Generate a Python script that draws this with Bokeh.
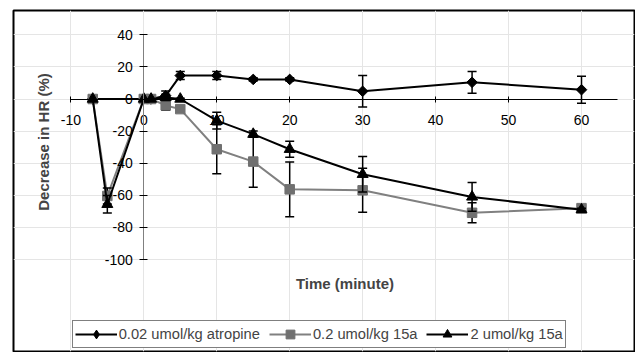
from math import pi
from bokeh.plotting import figure
from bokeh.models import (LinearAxis, FixedTicker, Range1d, Label, Legend,
                          LegendItem)
from bokeh.embed import file_html
from bokeh.resources import INLINE

# ---------------- data ----------------
atro_t = [-7, 0, 1, 3, 5, 10, 15, 20, 30, 45, 60]
atro_v = [0, 0, 0, 2, 14.6, 14.6, 12.2, 12.2, 4.8, 10.4, 5.8]
atro_e = [0, 0, 0, 3, 2.5, 2.5, 1, 1, 9.8, 6.8, 8.4]

t15 = [-7, -5, 0, 1, 3, 5, 10, 15, 20, 30, 45, 60]
low_v = [0, -60.4, 0, 0, -4, -6.3, -31.3, -39, -56.3, -56.9, -70.9, -68]
low_e = [0, 5, 0, 0, 3, 2, 15.3, 16, 17, 13.7, 6.2, 1]
high_v = [0, -65.6, 0, 0, 1, 0, -13.5, -21.9, -31.3, -46.9, -61, -69]
high_e = [0, 5.4, 0, 0, 2, 0.5, 5.2, 2, 5, 11, 9, 1]

labels = ["0.02 umol/kg atropine", "0.2 umol/kg 15a", "2 umol/kg 15a"]
xticks = [-10, 0, 10, 20, 30, 40, 50, 60]
yticks = [-100, -80, -60, -40, -20, 0, 20, 40]
x_title = "Time (minute)"
y_title = "Decrease in HR (%)"

FONT = "Liberation Sans"

p = figure(width=635, height=352,
           x_range=Range1d(-17.862, 67.265), y_range=Range1d(-157.32, 55.14),
           output_backend="svg", toolbar_location=None,
           x_axis_location=None, y_axis_location=None,
           min_border_left=13, min_border_top=10, min_border_right=1,
           min_border_bottom=1)
p.outline_line_color = "black"
p.outline_line_width = 2
p.background_fill_color = "white"
p.border_fill_color = "white"

xax = LinearAxis(fixed_location=0, bounds=(-10, 65),
                 ticker=FixedTicker(ticks=xticks, minor_ticks=[]),
                 major_label_overrides={v: str(v) for v in xticks},
                 axis_line_color="black", axis_line_width=1,
                 major_tick_in=3, major_tick_out=3,
                 major_tick_line_color="black",
                 minor_tick_line_color=None,
                 major_label_standoff=13,
                 major_label_text_font=FONT,
                 major_label_text_font_size="14px",
                 major_label_text_color="black")
p.add_layout(xax, "below")
yax = LinearAxis(fixed_location=0, bounds=(-100, 40),
                 ticker=FixedTicker(ticks=yticks, minor_ticks=[]),
                 major_label_overrides={v: str(v) for v in yticks},
                 axis_line_color="#808080", axis_line_width=1,
                 major_tick_in=4, major_tick_out=4,
                 major_tick_line_color="black",
                 minor_tick_line_color=None,
                 major_label_standoff=7,
                 major_label_text_font=FONT,
                 major_label_text_font_size="14px",
                 major_label_text_color="black")
p.add_layout(yax, "left")


def series(t, v, e, line_color, marker, fill, size, angle=0.0, leg_marker=None):
    ln = p.line(t, v, line_color=line_color, line_width=2)
    et = [a for a, b in zip(t, e) if b > 0]
    lo = [a - b for a, b in zip(v, e) if b > 0]
    hi = [a + b for a, b in zip(v, e) if b > 0]
    p.segment(et, lo, et, hi, line_color="black", line_width=1.5)
    p.scatter(et + et, lo + hi, marker="dash", size=9, line_color="black",
              line_width=1.5)
    mk = p.scatter(t, v, marker=marker, size=size, fill_color=fill,
                   line_color=fill, angle=angle)
    if leg_marker is not None:
        # legend-only glyph, placed outside the visible range
        mk = p.scatter([-1000], [0], marker=leg_marker, size=size,
                       fill_color=fill, line_color=fill)
    return ln, mk


r1 = series(atro_t, atro_v, atro_e, "black", "square", "black", 7.5, pi / 4,
            leg_marker="diamond")
r2 = series(t15, low_v, low_e, "#808080", "square", "#707070", 9.5)
r3 = series(t15, high_v, high_e, "black", "triangle", "black", 11)

p.add_layout(Label(x=27.58, y=-114.95, text=x_title, text_font=FONT,
                   text_font_style="bold", text_font_size="15px",
                   text_align="center", text_baseline="middle"))
p.add_layout(Label(x=-13.75, y=-26.8, text=y_title, angle=pi / 2,
                   text_font=FONT, text_font_style="bold",
                   text_font_size="15px", text_align="center",
                   text_baseline="middle"))

legend = Legend(items=[LegendItem(label=labels[0], renderers=list(r1)),
                       LegendItem(label=labels[1], renderers=list(r2)),
                       LegendItem(label=labels[2], renderers=list(r3))],
                location=(58.7, 3.0), orientation="horizontal",
                glyph_width=42, glyph_height=22, label_standoff=2,
                spacing=9, padding=2, margin=0,
                border_line_color="black", border_line_width=1,
                label_text_font=FONT, label_text_font_size="14.7px",
                label_height=20, background_fill_alpha=1)
p.add_layout(legend, "center")

open("out.html", "w").write(file_html(p, INLINE))
